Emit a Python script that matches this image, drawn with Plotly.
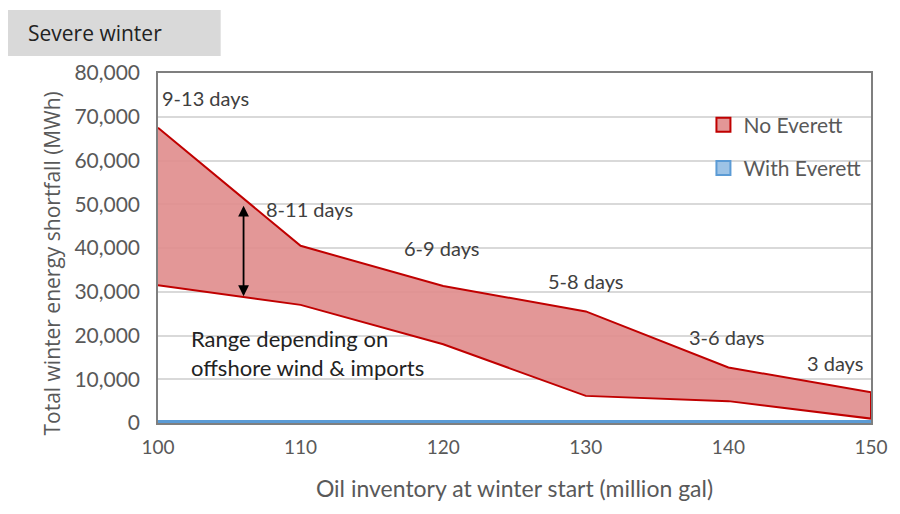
import plotly.graph_objects as go

# data
oil_inventory = [100, 110, 120, 130, 140, 150]
no_everett_high = [67500, 40500, 31300, 25500, 12700, 7000]
no_everett_low = [31500, 27000, 18000, 6200, 5000, 1000]
with_everett = [350, 350, 350, 350, 350, 350]
day_labels = ["9-13 days", "8-11 days", "6-9 days", "5-8 days", "3-6 days", "3 days"]
label_x = [103.35, 110.6, 119.9, 129.95, 139.9, 147.45]
label_y = [74300, 48900, 40000, 32500, 19700, 13700]

FONT = "Lato"
TXT = "#404040"
TICK = "#595959"
RED = "#c00000"
PINK = "rgba(224,140,140,0.9)"
BLUE = "#5b9bd5"
LBLUE = "#9dc3e6"

fig = go.Figure()

# band between high and low estimates, closed polygon
band_x = oil_inventory + oil_inventory[::-1]
band_y = no_everett_high + no_everett_low[::-1]
fig.add_trace(go.Scatter(
    x=band_x, y=band_y, fill="toself", mode="lines",
    fillcolor=PINK, line=dict(color=RED, width=2),
    name="No Everett", showlegend=False,
))
fig.add_trace(go.Scatter(
    x=oil_inventory, y=with_everett, fill="tozeroy", mode="lines",
    fillcolor=LBLUE, line=dict(color=BLUE, width=3),
    name="With Everett", showlegend=False,
))

# legend entries drawn as square swatches
fig.add_trace(go.Scatter(
    x=[None], y=[None], mode="markers", name="No Everett", legendgroup="a",
    marker=dict(symbol="square", size=14, color=PINK, line=dict(color=RED, width=2)),
))
fig.add_trace(go.Scatter(
    x=[None], y=[None], mode="markers", name="With Everett", legendgroup="b",
    marker=dict(symbol="square", size=14, color=LBLUE, line=dict(color=BLUE, width=2)),
))

for lx, ly, lab in zip(label_x, label_y, day_labels):
    fig.add_annotation(x=lx, y=ly, text=lab, showarrow=False,
                       font=dict(family=FONT, size=20, color=TXT))

fig.add_annotation(x=102.2, y=16000, xanchor="left", align="left", showarrow=False,
                   text="Range depending on<br>offshore wind & imports",
                   font=dict(family=FONT, size=22, color="#222222"))

# double-headed arrow for the range
fig.add_annotation(x=106, y=29000, ax=106, ay=50000, xref="x", yref="y",
                   axref="x", ayref="y", text="", showarrow=True,
                   arrowhead=2, startarrowhead=2, arrowside="end+start",
                   arrowsize=1.2, arrowwidth=1.8, arrowcolor="black")

# header box
fig.add_shape(type="rect", xref="paper", yref="paper",
              x0=-0.2106, x1=0.0879, y0=1.0486, y1=1.18,
              fillcolor="#d9d9d9", line=dict(width=0), layer="below")
fig.add_annotation(xref="paper", yref="paper", x=-0.1855, y=1.114,
                   xanchor="left", yanchor="middle", text="Severe winter",
                   showarrow=False,
                   font=dict(family="Open Sans", size=21, color="#222222"))

# y axis title, placed by hand to sit a bit below centre like the original
fig.add_annotation(xref="paper", yref="paper", x=-0.148, y=0.457,
                   xanchor="center", yanchor="middle",
                   textangle=-90, showarrow=False,
                   text="Total winter energy shortfall (MWh)",
                   font=dict(family="Open Sans", size=21, color=TICK))

fig.update_layout(
    width=892, height=506,
    margin=dict(l=150, r=25, t=65, b=91),
    paper_bgcolor="white", plot_bgcolor="white",
    font=dict(family=FONT, color=TICK),
    showlegend=True,
    legend=dict(x=0.765, y=0.91, xanchor="left", yanchor="top",
                bgcolor="rgba(0,0,0,0)", tracegroupgap=13, itemwidth=30,
                font=dict(family=FONT, size=21, color=TICK)),
    xaxis=dict(range=[100, 150], tickvals=oil_inventory, showgrid=False,
               showline=True, linecolor="#7f7f7f", linewidth=1.5, mirror=True,
               ticks="", tickfont=dict(size=19, color=TICK), zeroline=False,
               ticklabelstandoff=6,
               title=dict(text="Oil inventory at winter start (million gal)",
                          font=dict(size=23, color=TICK), standoff=24)),
    yaxis=dict(range=[0, 80000], dtick=10000, tickformat=",",
               showgrid=True, gridcolor="#d9d9d9", gridwidth=1.5,
               showline=True, linecolor="#7f7f7f", linewidth=1.5, mirror=True,
               zeroline=False, ticks="", tickfont=dict(size=21, color=TICK),
               ticklabelstandoff=12),
)

fig.write_html("out.html")
